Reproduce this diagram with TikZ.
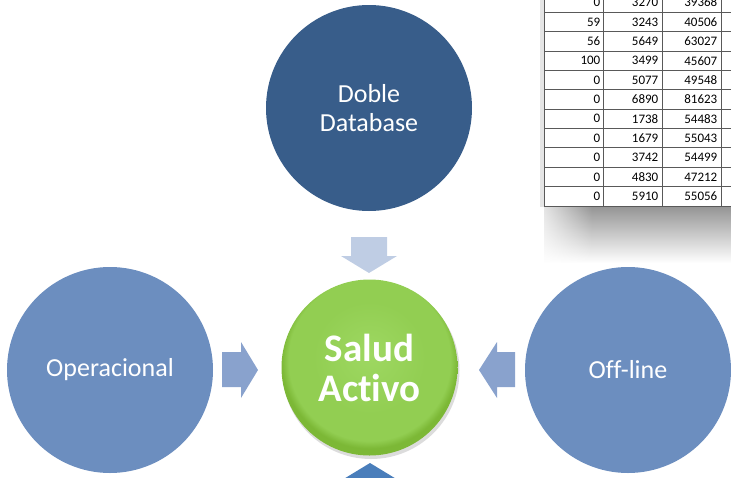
\documentclass[tikz,border=0pt]{standalone}
\usepackage{fontspec}
\setmainfont[Ligatures=NoCommon]{Carlito}
\usetikzlibrary{fadings}
\definecolor{darkblue}{RGB}{56,93,138}
\definecolor{midblue}{RGB}{108,142,191}
\definecolor{arrowblue}{RGB}{137,162,205}
\definecolor{paleblue}{RGB}{191,205,228}
\definecolor{deepblue}{RGB}{74,126,187}
\definecolor{greenin}{RGB}{158,216,98}
\definecolor{greenmid}{RGB}{146,206,82}
\definecolor{greenout}{RGB}{124,184,54}
\pgfdeclareradialshading{ballgreen}{\pgfpoint{0bp}{4bp}}{color(0bp)=(greenin); color(16bp)=(greenmid); color(23bp)=(greenmid); color(25bp)=(greenout); color(50bp)=(greenout)}
\tikzfading[name=fadeRight, left color=transparent!0, right color=transparent!100]
\begin{document}
\begin{tikzpicture}[x=1pt,y=-1pt,
  bubble/.style={circle, inner sep=0pt, minimum size=206pt, text=white, align=center, font=\fontsize{26}{29}\selectfont},
  gridline/.style={black!65, line width=0.8pt},
  cell/.style={anchor=east, inner sep=0pt, text=black, font=\fontsize{13}{14}\selectfont}]
\useasboundingbox (0,0) rectangle (731,477);
\begin{scope}
\clip (0,0) rectangle (731,477);
% table shadow
\shade[top color=black!42, bottom color=white] (544,206) rectangle (731,263);
\fill[white, path fading=fadeRight] (528,200) rectangle (592,266);
% table
\fill[black!10] (540,0) rectangle (544,207);
\fill[white] (544,0) rectangle (731,206);
\foreach \x in {544,603,662,721} \draw[gridline] (\x,0) -- (\x,206);
\foreach \k in {0,...,10} \draw[gridline] (544,12.3+19.37*\k) -- (731,12.3+19.37*\k);
\foreach \a/\b/\c [count=\i from 0] in {0/3270/39368, 59/3243/40506, 56/5649/63027, 100/3499/45607, 0/5077/49548, 0/6890/81623, 0/1738/54483, 0/1679/55043, 0/3742/54499, 0/4830/47212, 0/5910/55056}{
  \node[cell] (ta\i) at (600.5,2.6+19.37*\i) {\a};
  \node[cell] (tb\i) at (658.5,2.6+19.37*\i) {\b};
  \node[cell] (tc\i) at (717.5,2.6+19.37*\i) {\c};
}
% circles
\node[bubble, fill=darkblue] (doble) at (369,108) {Doble\\Database};
\node[bubble, fill=midblue] (oper) at (110,370) {Operacional};
\node[bubble, fill=midblue] (off) at (628,370) {Off-line};
\fill[black!30, opacity=0.45] (371,370.5) circle (88.5);
\node[circle, inner sep=0pt, minimum size=176pt, shading=ballgreen, text=white, align=center, font=\bfseries\fontsize{39}{40}\selectfont] (salud) at (369.5,367.5) {Salud\\Activo};
% block arrows
\fill[paleblue] (351,237) -- (387,237) -- (387,256) -- (397,256) -- (369,273) -- (341,256) -- (351,256) -- cycle;
\fill[arrowblue] (222,352) -- (241,352) -- (241,342) -- (258,370) -- (241,398) -- (241,387) -- (222,387) -- cycle;
\fill[arrowblue] (515,352) -- (497,352) -- (497,342) -- (479,370) -- (497,398) -- (497,387) -- (515,387) -- cycle;
\fill[deepblue] (370,463) -- (398,480) -- (342,480) -- cycle;
\end{scope}
\end{tikzpicture}
\end{document}
